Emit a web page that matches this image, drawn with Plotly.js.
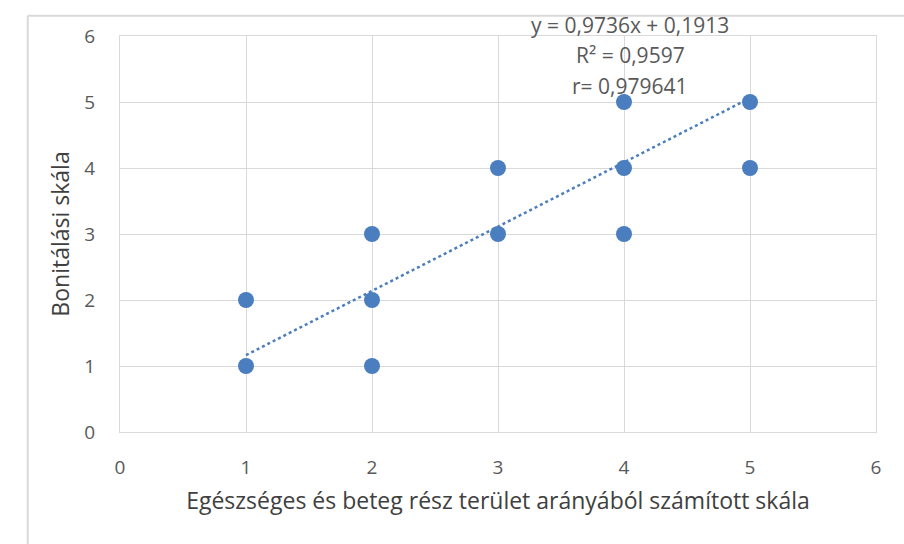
<!DOCTYPE html>
<html>
<head>
<meta charset="utf-8">
<script src="https://cdn.plot.ly/plotly-3.0.1.min.js"></script>
<style>
html,body{margin:0;padding:0;background:#fff;}
#chart{width:904px;height:544px;}
</style>
</head>
<body>
<div id="chart"></div>
<script>
// Data
const xValues = [1, 1, 2, 2, 2, 3, 3, 4, 4, 4, 5, 5];
const yValues = [1, 2, 1, 2, 3, 3, 4, 3, 4, 5, 4, 5];
const trendSlope = 0.9736;
const trendIntercept = 0.1913;
const trendX = [1, 5];
const tickVals = [0, 1, 2, 3, 4, 5, 6];
const xTitle = 'Egészséges és beteg rész terület arányából számított skála';
const yTitle = 'Bonitálási skála';
const statLines = ['y = 0,9736x + 0,1913', 'R² = 0,9597', 'r= 0,979641'];

const trendY = trendX.map(x => trendSlope * x + trendIntercept);
const blue = '#4a7ebf';
const fontFam = 'Open Sans, Noto Sans, sans-serif';

const traces = [
  {
    x: trendX, y: trendY, type: 'scatter', mode: 'lines',
    line: {color: blue, width: 2.5, dash: 'dot'},
    hoverinfo: 'skip', showlegend: false
  },
  {
    x: xValues, y: yValues, type: 'scatter', mode: 'markers',
    marker: {color: blue, size: 16, symbol: 'circle', line: {width: 0}},
    showlegend: false, cliponaxis: false
  }
];

const axisCommon = {
  range: [0, 6], tickvals: tickVals, ticktext: tickVals.map(String),
  showgrid: true, gridcolor: '#d9d9d9', gridwidth: 1,
  zeroline: false, showline: true, linecolor: '#d9d9d9', linewidth: 1, mirror: true,
  ticks: '', tickfont: {family: fontFam, size: 19, color: '#595959'},
  fixedrange: true
};

const statY = [1.028, 0.952, 0.874];
const annotations = statLines.map((t, i) => ({
  x: 4.05, y: statY[i], xref: 'x', yref: 'paper',
  text: t, showarrow: false, xanchor: 'center', yanchor: 'middle',
  font: {family: fontFam, size: 21, color: '#595959'}
}));

const layout = {
  width: 904, height: 544,
  margin: {l: 120, r: 28, t: 36, b: 112},
  paper_bgcolor: '#fff', plot_bgcolor: '#fff',
  xaxis: Object.assign({}, axisCommon, {
    ticklabelstandoff: 18,
    title: {text: xTitle, font: {family: fontFam, size: 23, color: '#404040'}, standoff: 14}
  }),
  yaxis: Object.assign({}, axisCommon, {
    ticklabelstandoff: 20,
    title: {text: yTitle, font: {family: fontFam, size: 23, color: '#404040'}, standoff: 8}
  }),
  annotations: annotations,
  shapes: [
    {type: 'line', xref: 'paper', yref: 'paper', x0: -0.122, x1: 1.1, y0: 1.051, y1: 1.051, line: {color: '#d9d9d9', width: 2}},
    {type: 'line', xref: 'paper', yref: 'paper', x0: -0.122, x1: -0.122, y0: 1.051, y1: -0.3, line: {color: '#d9d9d9', width: 2}}
  ],
  showlegend: false
};

Plotly.newPlot('chart', traces, layout, {displayModeBar: false, staticPlot: true});
</script>
</body>
</html>
